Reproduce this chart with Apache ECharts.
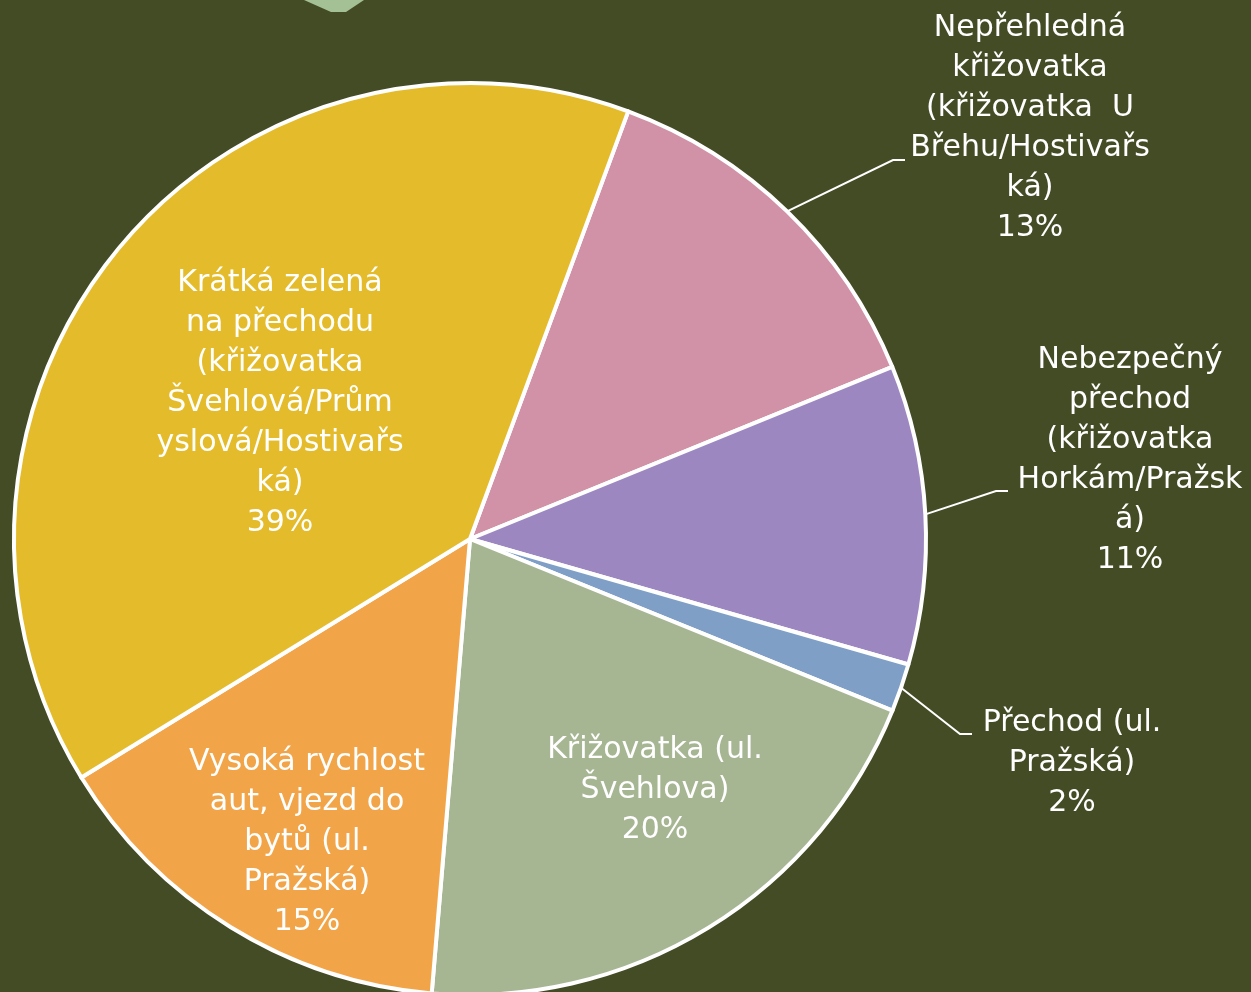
<!DOCTYPE html>
<html>
<head>
<meta charset="utf-8">
<script src="https://cdn.jsdelivr.net/npm/echarts@6/dist/echarts.min.js"></script>
<style>
html,body{margin:0;padding:0;background:#444C26;}
#c{width:1251px;height:992px;}
</style>
</head>
<body>
<div id="c"></div>
<script>
// Data (clockwise order, starting at the top-right)
const categories = [
  'Nepřehledná křižovatka (křižovatka  U Břehu/Hostivařská)',
  'Nebezpečný přechod (křižovatka Horkám/Pražská)',
  'Přechod (ul. Pražská)',
  'Křižovatka (ul. Švehlova)',
  'Vysoká rychlost aut, vjezd do bytů (ul. Pražská)',
  'Krátká zelená na přechodu (křižovatka Švehlová/Průmyslová/Hostivařská)'
];
const values = [13.2, 10.6, 1.7, 20.2, 14.9, 39.4];
const labelTexts = [
  'Nepřehledná\nkřižovatka\n(křižovatka  U\nBřehu/Hostivařs\nká)',
  'Nebezpečný\npřechod\n(křižovatka\nHorkám/Pražsk\ná)',
  'Přechod (ul.\nPražská)',
  'Křižovatka (ul.\nŠvehlova)',
  'Vysoká rychlost\naut, vjezd do\nbytů (ul.\nPražská)',
  'Krátká zelená\nna přechodu\n(křižovatka\nŠvehlová/Prům\nyslová/Hostivařs\nká)'
];
const colors = ['#D192A8', '#9D87C1', '#7F9FC6', '#A6B592', '#F2A548', '#E4BC2B'];
const insideLabel = [false, false, false, true, true, true];

// Label layout (label centre x/y; for outside labels: leader attach point)
const labelCenters = [[1030, 128], [1130, 460], [1072, 763], [655, 790], [307, 842], [280, 403]];
const leaderAttach = [[905, 160], [1008, 491], [972, 734], null, null, null];

const chart = echarts.init(document.getElementById('c'), null, {renderer: 'canvas'});

const data = categories.map((name, i) => ({
  name: name,
  value: values[i],
  itemStyle: {color: colors[i]},
  label: {position: insideLabel[i] ? 'inside' : 'outside'},
  labelLine: {show: !insideLabel[i]}
}));

chart.setOption({
  backgroundColor: '#444C26',
  animation: false,
  graphic: [{
    type: 'polygon',
    shape: {points: [[304, 0], [364, 0], [346, 12], [331, 12]]},
    style: {fill: '#A3C194'}
  }],
  series: [{
    type: 'pie',
    center: [470, 539],
    radius: 456,
    startAngle: 69.7,
    clockwise: true,
    avoidLabelOverlap: false,
    data: data,
    itemStyle: {borderColor: '#ffffff', borderWidth: 4},
    label: {
      show: true,
      color: '#ffffff',
      fontFamily: 'DejaVu Sans',
      fontSize: 30,
      lineHeight: 40,
      align: 'center',
      formatter: function (p) {
        return labelTexts[p.dataIndex] + '\n' + Math.round(p.percent) + '%';
      }
    },
    labelLine: {
      show: true,
      lineStyle: {color: '#ffffff', width: 2},
      length: 20,
      length2: 10
    },
    labelLayout: function (p) {
      const i = p.dataIndex;
      const c = labelCenters[i];
      const res = {x: c[0], y: c[1], align: 'center', verticalAlign: 'middle'};
      const a = leaderAttach[i];
      if (a && p.labelLinePoints) {
        res.labelLinePoints = [p.labelLinePoints[0], [a[0] - 12, a[1]], [a[0], a[1]]];
      }
      return res;
    }
  }]
});
</script>
</body>
</html>
